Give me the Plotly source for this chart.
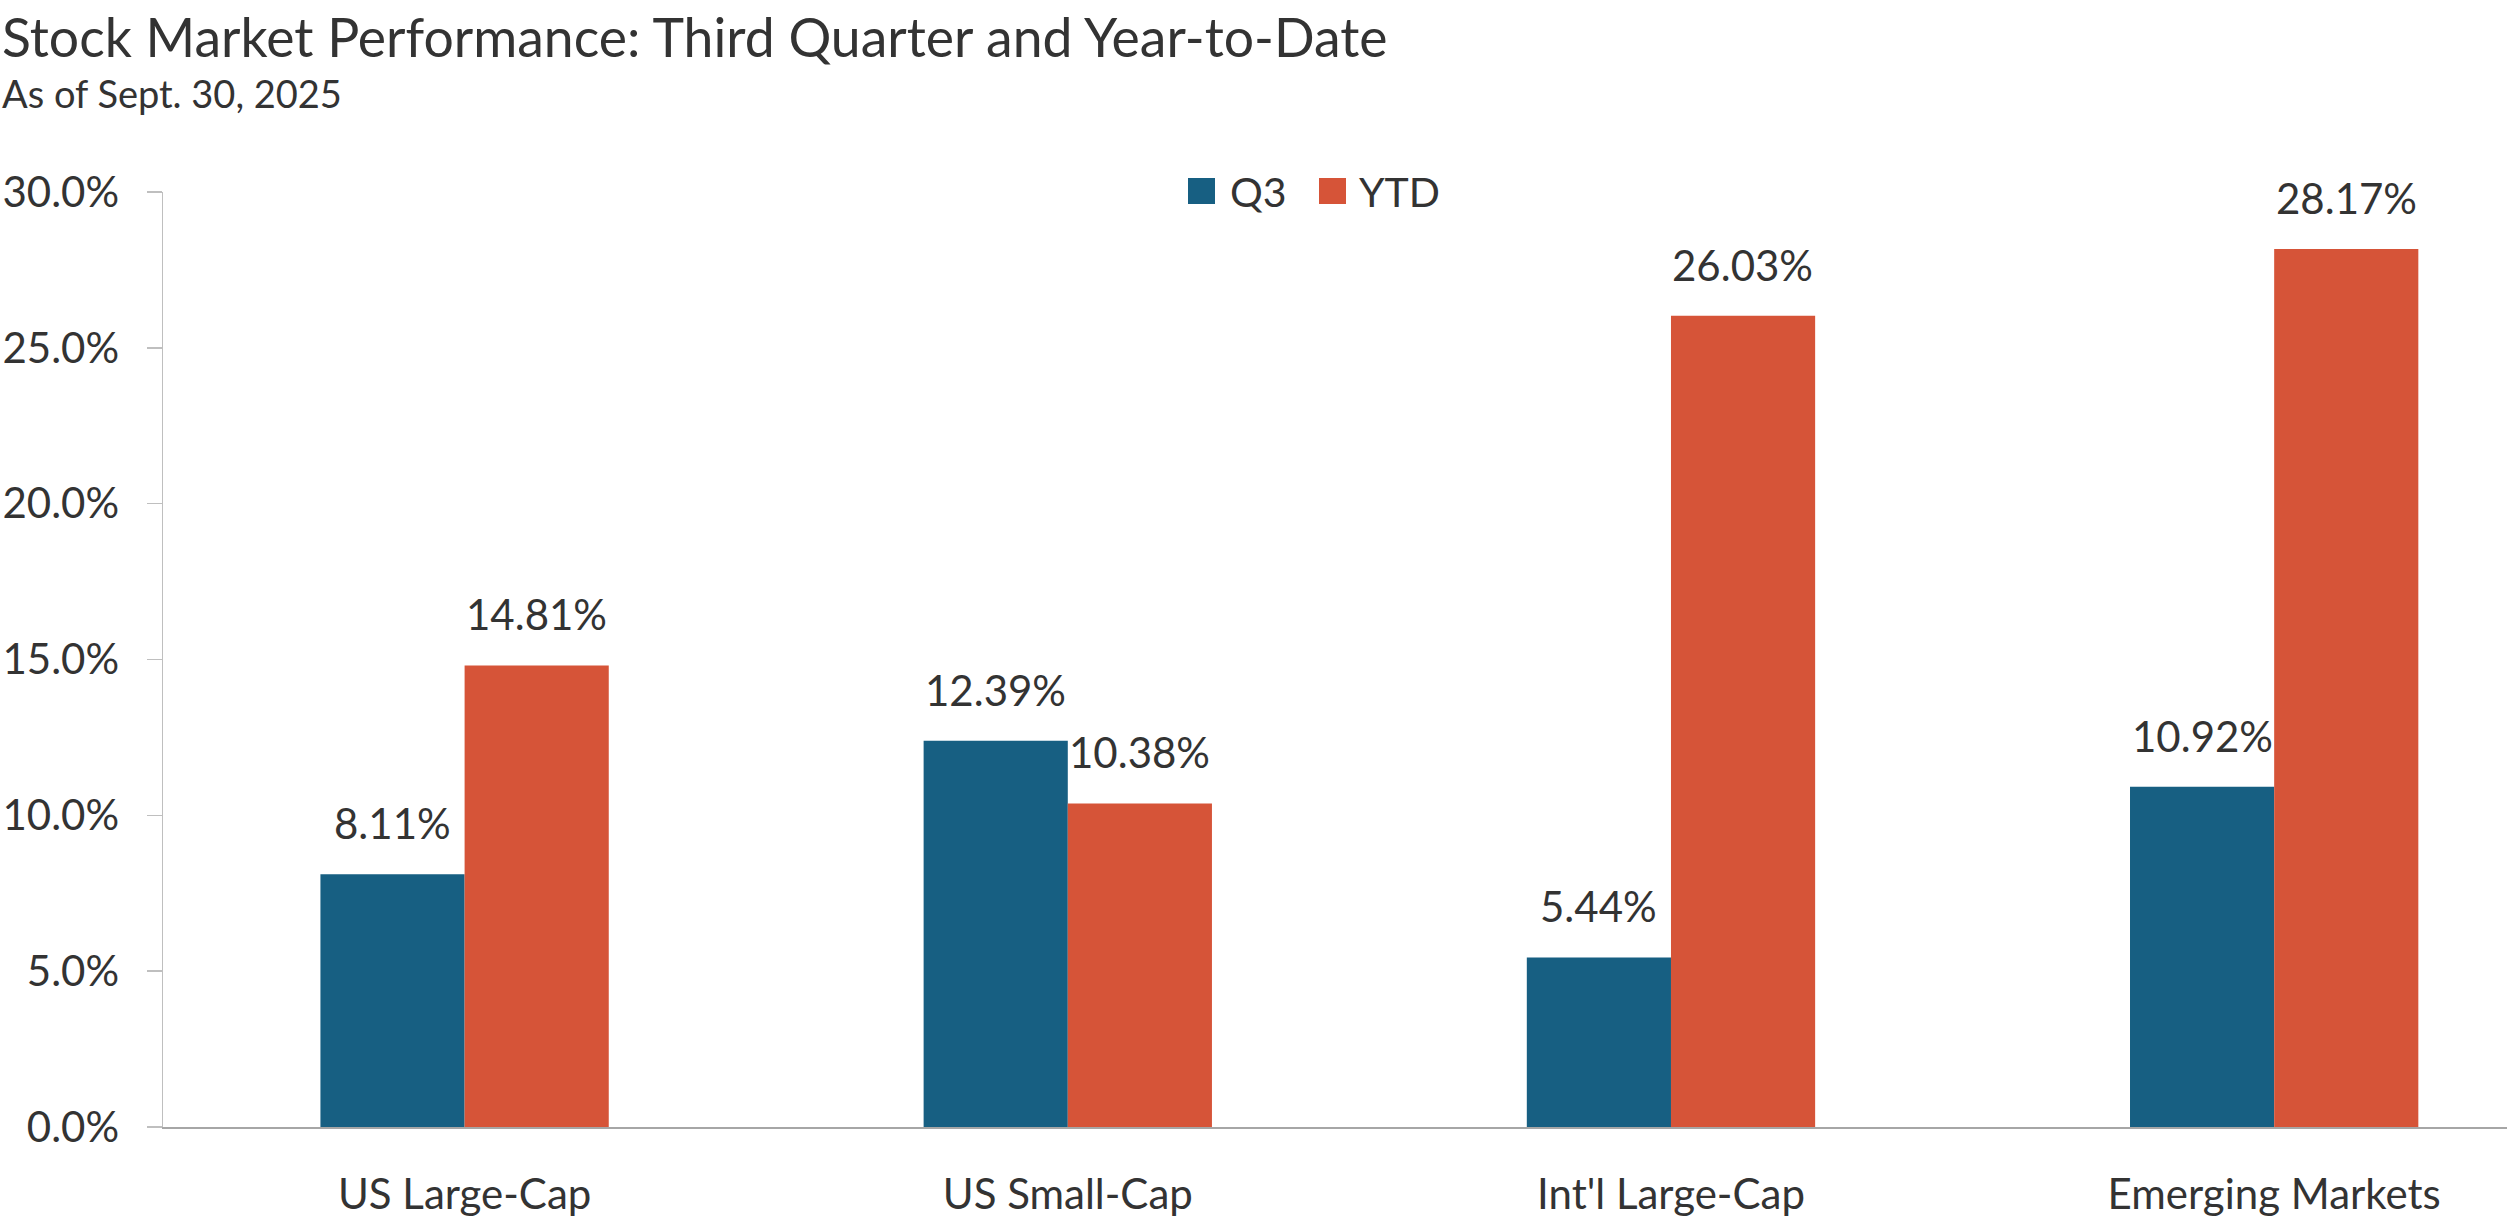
import plotly.graph_objects as go

categories = ["US Large-Cap", "US Small-Cap", "Int'l Large-Cap", "Emerging Markets"]
q3_values = [8.11, 12.39, 5.44, 10.92]
ytd_values = [14.81, 10.38, 26.03, 28.17]
series_names = ["Q3", "YTD"]
y_ticks = [0, 5, 10, 15, 20, 25, 30]

title_text = "Stock Market Performance: Third Quarter and Year-to-Date"
subtitle_text = "As of Sept. 30, 2025"

COL_Q3 = "#175F82"
COL_YTD = "#D65438"
TXT = "#333333"
FONT = "Lato"

W, H = 2507, 1223
L, R, T, B = 163, 0, 192, 96
PW = W - L - R
PH = H - T - B


def px_x(px):
    return (px - L) / PW


def px_y(py):
    return (H - B - py) / PH


fig = go.Figure()
fig.add_trace(go.Bar(name=series_names[0], x=categories, y=q3_values,
                     marker=dict(color=COL_Q3, line=dict(width=0)), showlegend=False))
fig.add_trace(go.Bar(name=series_names[1], x=categories, y=ytd_values,
                     marker=dict(color=COL_YTD, line=dict(width=0)), showlegend=False))

annotations = []
# data labels
for vals, shift in ((q3_values, -72), (ytd_values, 72)):
    for c, v in zip(categories, vals):
        annotations.append(dict(
            x=c, y=v, xref="x", yref="y", text=f"{v:.2f}%", showarrow=False,
            xshift=shift, yshift=24, yanchor="bottom", xanchor="center",
            font=dict(family=FONT, size=42, color=TXT)))

# title & subtitle
annotations.append(dict(x=px_x(0), y=px_y(36), xref="paper", yref="paper",
                        text=title_text, showarrow=False, xanchor="left", yanchor="middle",
                        height=60, valign="middle",
                        font=dict(family=FONT, size=53.5, color=TXT)))
annotations.append(dict(x=px_x(0), y=px_y(93), xref="paper", yref="paper",
                        text=subtitle_text, showarrow=False, xanchor="left", yanchor="middle",
                        font=dict(family=FONT, size=38, color=TXT)))

# legend (manual)
shapes = []
legend_items = [(series_names[0], COL_Q3, 1188, 1228), (series_names[1], COL_YTD, 1319, 1357)]
for name, col, sq_x, tx_x in legend_items:
    shapes.append(dict(type="rect", xref="paper", yref="paper",
                       x0=px_x(sq_x), x1=px_x(sq_x + 27), y0=px_y(204), y1=px_y(178),
                       fillcolor=col, line=dict(width=0)))
    annotations.append(dict(x=px_x(tx_x), y=px_y(191), xref="paper", yref="paper",
                            text=name, showarrow=False, xanchor="left", yanchor="middle",
                            font=dict(family=FONT, size=41, color=TXT)))

fig.update_layout(
    width=W, height=H,
    margin=dict(l=L, r=R, t=T, b=B, pad=0, autoexpand=False),
    paper_bgcolor="white", plot_bgcolor="white",
    barmode="group", bargap=0.522, bargroupgap=0,
    showlegend=False, hovermode=False,
    annotations=annotations, shapes=shapes,
    font=dict(family=FONT, color=TXT),
)
fig.update_xaxes(
    range=[-0.5, 3.386], showline=True, linecolor="#A6A6A6", linewidth=2,
    ticks="", showgrid=False, zeroline=False, automargin=False,
    tickfont=dict(family=FONT, size=42, color=TXT), ticklabelstandoff=30,
)
fig.update_yaxes(
    range=[0, 30], tickvals=y_ticks, ticktext=[f"{t:.1f}%" for t in y_ticks],
    showline=True, linecolor="#BFBFBF", linewidth=1.5,
    ticks="outside", ticklen=15, tickwidth=1.5, tickcolor="#BFBFBF",
    showgrid=False, zeroline=False, automargin=False,
    tickfont=dict(family=FONT, size=42, color=TXT), ticklabelstandoff=19,
)

fig.write_html(
    "out.html",
    config={"displayModeBar": False, "staticPlot": True},
    post_script="document.body.style.margin='0';document.body.style.padding='0';",
)
